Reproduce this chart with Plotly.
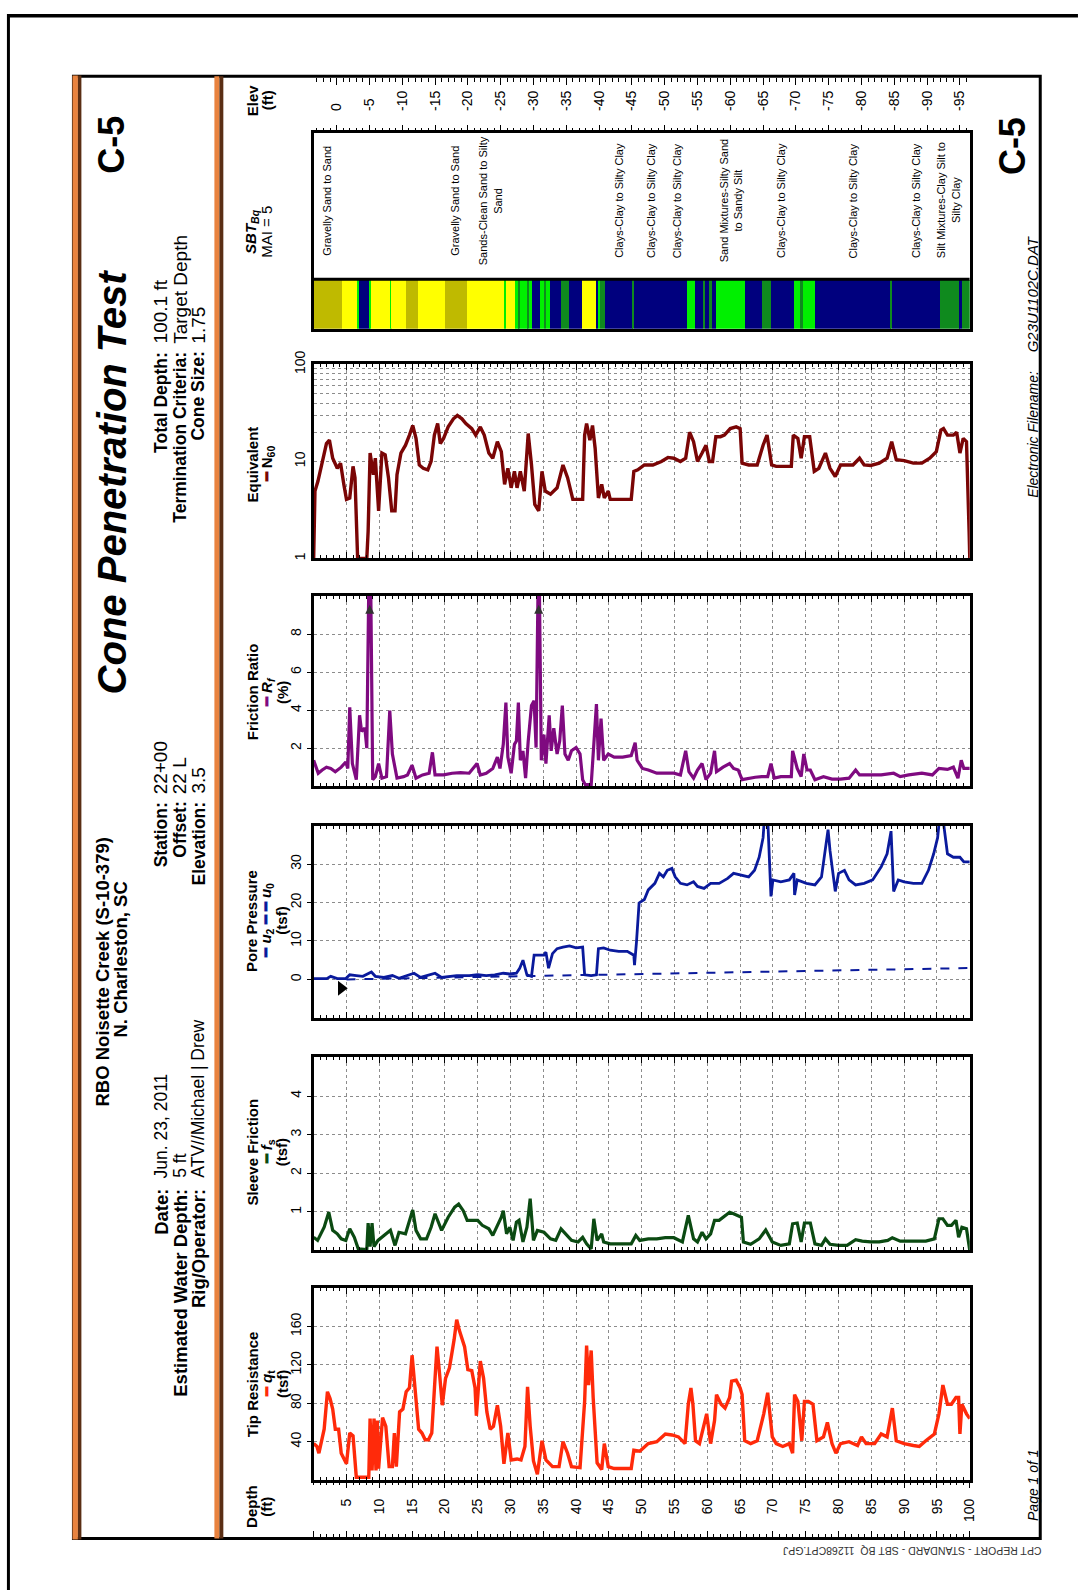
import plotly.graph_objects as go

# ---------------- DATA ----------------
tip_depth = [0, 0.5, 0.8, 1.6, 2.1, 2.5, 2.9, 3.3, 3.8, 4.2, 5.0, 5.5, 6.0, 6.5, 7.0, 8.4, 8.6, 8.9, 9.2, 9.5,
             9.7, 9.9, 10.5, 11.0, 11.5, 12.0, 12.3, 12.6, 13.1, 13.6, 14.1, 14.6, 15.0, 15.4, 16.0, 16.5, 17.0, 17.5, 18.0, 18.5,
             18.8, 19.2, 19.6, 20.1, 20.7, 21.4, 21.8, 22.2, 23.0, 23.5, 24.1, 24.6, 24.8, 25.4, 25.9, 26.4, 26.9, 27.4, 28.0, 28.5,
             29.0, 29.6, 30.1, 31.0, 31.6, 32.2, 32.6, 33.0, 33.5, 34.1, 34.8, 35.4, 36.4, 37.4, 38.0, 38.7, 39.3, 40.6, 41.3, 41.6,
             41.9, 42.3, 42.6, 43.2, 43.9, 44.3, 44.9, 45.8, 48.4, 48.8, 49.7, 51.0, 52.3, 53.6, 54.6, 55.6, 56.6, 57.1, 57.5, 57.8,
             58.2, 58.8, 59.5, 59.9, 60.5, 61.1, 61.4, 62.1, 62.7, 63.4, 63.7, 64.4, 65.0, 65.3, 65.7, 66.6, 67.6, 68.6, 69.2, 69.9,
             70.5, 71.5, 72.5, 73.0, 73.3, 73.8, 74.4, 74.8, 75.4, 76.1, 76.7, 77.7, 78.3, 79.0, 79.6, 80.3, 81.6, 82.9, 83.5, 84.2,
             85.5, 86.5, 87.4, 88.2, 88.8, 90.0, 91.4, 92.3, 93.3, 94.6, 95.3, 95.9, 96.6, 97.2, 97.9, 98.3, 98.5, 98.8, 99.5, 100.0]
tip_qt = [38, 35, 28, 53, 92, 85, 74, 53, 53, 28, 17, 49, 46, 3, 3, 3, 64, 10, 64, 10,
          62, 12, 65, 56, 14, 14, 49, 14, 71, 74, 92, 96, 130, 99, 53, 49, 42, 42, 49, 106,
          139, 110, 78, 106, 117, 146, 167, 156, 139, 115, 114, 96, 67, 124, 106, 71, 53, 56, 78, 56,
          17, 49, 21, 22, 21, 35, 97, 56, 20, 6, 41, 21, 14, 14, 40, 28, 14, 13, 82, 140,
          99, 135, 86, 18, 11, 38, 14, 12, 12, 31, 30, 38, 40, 48, 47, 45, 38, 79, 96, 79,
          41, 38, 58, 69, 38, 62, 89, 79, 75, 86, 103, 104, 96, 89, 41, 38, 41, 69, 91, 45,
          38, 35, 38, 28, 89, 82, 41, 82, 82, 79, 41, 45, 60, 38, 28, 38, 40, 36, 45, 38,
          38, 48, 45, 75, 41, 38, 36, 35, 41, 48, 69, 99, 79, 79, 86, 86, 48, 79, 69, 64]

sleeve_depth = [0, 0.6, 1.6, 2.3, 2.9, 3.6, 4.2, 4.9, 5.5, 6.2, 6.8, 7.5, 8.1, 8.3, 8.6, 8.9, 9.2, 9.8, 10.7, 11.7,
                12.4, 13.0, 14.0, 14.6, 15.1, 15.6, 16.3, 17.2, 17.9, 18.5, 19.5, 20.5, 21.5, 22.1, 22.8, 23.4, 24.4, 25.0, 25.7, 26.7,
                27.3, 28.0, 28.6, 28.9, 29.4, 29.9, 30.4, 30.9, 31.3, 31.9, 32.5, 33.0, 33.5, 34.1, 35.1, 36.1, 36.9, 37.7, 38.4, 39.3,
                40.3, 41.0, 41.6, 42.3, 42.7, 43.2, 43.9, 44.2, 45.2, 48.4, 49.1, 49.7, 51.0, 52.3, 53.6, 54.9, 56.2, 57.1, 57.9, 58.5,
                59.2, 59.8, 60.5, 61.1, 61.8, 62.4, 63.4, 64.0, 64.7, 65.2, 65.5, 66.6, 67.9, 68.9, 69.9, 71.2, 72.5, 73.0, 73.7, 74.3,
                74.8, 75.7, 76.4, 77.4, 78.0, 78.7, 80.0, 81.3, 82.6, 83.6, 84.9, 86.2, 87.5, 88.2, 89.4, 91.4, 93.3, 94.6, 95.3, 95.9,
                96.6, 97.2, 97.9, 98.3, 98.8, 99.5, 100.0]
sleeve_fs = [0.34, 0.26, 0.6, 0.99, 0.52, 0.43, 0.3, 0.26, 0.56, 0.34, 0.04, 0.02, 0.02, 0.71, 0.1, 0.71, 0.1, 0.26, 0.39, 0.52,
             0.13, 0.47, 0.43, 0.78, 1.05, 0.52, 0.3, 0.3, 0.6, 0.95, 0.52, 0.86, 1.12, 1.2, 1.03, 0.78, 0.78, 0.78, 0.65, 0.56,
             0.39, 0.65, 0.86, 1.03, 0.43, 0.6, 0.26, 0.73, 0.78, 0.22, 0.6, 1.34, 0.26, 0.52, 0.47, 0.3, 0.26, 0.56, 0.43, 0.26,
             0.22, 0.34, 0.17, 0.04, 0.82, 0.26, 0.43, 0.22, 0.17, 0.17, 0.39, 0.26, 0.3, 0.3, 0.33, 0.33, 0.22, 0.91, 0.3, 0.22,
             0.47, 0.3, 0.43, 0.78, 0.78, 0.86, 0.99, 0.95, 0.91, 0.86, 0.22, 0.16, 0.3, 0.53, 0.22, 0.13, 0.17, 0.69, 0.71, 0.22,
             0.71, 0.71, 0.17, 0.13, 0.3, 0.16, 0.13, 0.13, 0.28, 0.24, 0.22, 0.22, 0.26, 0.33, 0.24, 0.24, 0.24, 0.3, 0.82, 0.82,
             0.65, 0.65, 0.78, 0.34, 0.6, 0.56, 0.0]

pore_depth = [0, 2.0, 2.6, 3.6, 4.9, 5.5, 6.5, 7.5, 8.8, 9.4, 10.7, 12.0, 13.0, 15.3, 16.3, 18.5, 19.5, 21.8, 23.7, 25.0,
              26.3, 27.6, 28.9, 29.9, 30.9, 31.4, 31.9, 32.5, 33.2, 33.6, 34.5, 35.1, 35.4, 35.8, 36.4, 37.1, 38.0, 39.0, 40.0, 41.0,
              41.3, 42.3, 43.1, 43.4, 44.2, 45.2, 46.5, 47.8, 48.8, 48.9, 49.2, 49.6, 50.4, 51.0, 52.0, 52.7, 53.3, 53.9, 54.6, 55.1,
              55.9, 56.9, 57.9, 58.5, 59.5, 60.5, 61.8, 63.1, 64.0, 65.3, 66.3, 67.2, 67.9, 68.5, 68.7, 69.2, 69.5, 69.7, 70.0, 71.2,
              72.5, 73.2, 73.3, 73.7, 75.1, 76.4, 77.4, 78.0, 78.4, 78.7, 79.1, 79.5, 80.0, 80.9, 81.6, 82.6, 83.9, 85.2, 86.5, 87.4,
              88.0, 88.4, 89.1, 90.0, 91.4, 92.7, 93.7, 94.5, 95.1, 95.4, 95.9, 96.6, 97.5, 98.5, 99.1, 100.0]
pore_u2 = [0.2, 0.2, 0.8, 0.2, 0.2, 1.2, 1.0, 0.8, 1.9, 0.8, 0.5, 1.0, 0.3, 1.6, 0.5, 1.6, 0.5, 1.0, 1.0, 1.2,
           1.0, 1.2, 1.6, 1.4, 1.6, 2.9, 5.0, 1.2, 0.8, 6.3, 6.3, 6.3, 7.1, 2.9, 6.7, 8.0, 8.4, 8.7, 8.2, 8.4,
           1.2, 1.0, 1.2, 8.0, 8.2, 7.6, 7.3, 7.3, 6.3, 3.7, 9.7, 19.9, 20.8, 23.3, 25.0, 27.6, 26.7, 28.4, 28.9, 26.7,
           25.0, 24.6, 25.4, 24.2, 23.7, 25.0, 25.0, 26.3, 27.6, 27.1, 26.7, 28.4, 31.8, 36.9, 42, 42, 31.8, 21.6, 25.9, 25.4,
           25.9, 27.6, 22.0, 25.9, 25.0, 24.6, 26.7, 33.5, 39.0, 33.5, 27.6, 22.9, 27.6, 28.4, 25.9, 24.6, 25.0, 25.9, 29.3, 32.7,
           38.6, 22.9, 25.9, 25.4, 25.0, 25.0, 28.4, 32.7, 36.9, 42, 42, 32.7, 31.8, 31.8, 30.6, 30.6]
u0_depth = [5.0, 100.0]
u0_value = [0.0, 2.96]
water_mark_depth = [4.2]
water_mark_value = [-2.3]

fr_depth = [0, 0.7, 1.3, 1.95, 2.6, 3.3, 4.2, 4.9, 5.2, 5.5, 5.9, 6.5, 7.0, 7.3, 7.8, 8.1, 8.4, 8.7, 9.0, 9.4,
            9.9, 10.4, 11.1, 11.6, 12.0, 12.7, 13.7, 14.3, 15.0, 15.6, 16.6, 17.6, 18.1, 18.5, 19.8, 21.1, 22.4, 23.7, 24.9, 25.4,
            26.3, 27.3, 28.0, 28.4, 28.9, 29.3, 29.6, 30.1, 30.6, 30.9, 31.2, 31.5, 31.9, 32.3, 32.7, 33.2, 33.6, 33.9, 34.2, 34.4,
            34.7, 35.1, 35.4, 35.9, 36.2, 36.6, 37.1, 37.5, 37.9, 38.3, 38.8, 39.3, 40.0, 40.6, 41.0, 41.4, 42.3, 42.7, 43.1, 43.4,
            43.8, 44.2, 44.9, 45.8, 47.1, 48.4, 49.0, 49.3, 50.1, 51.0, 52.3, 53.6, 54.9, 55.9, 56.7, 57.2, 57.9, 58.5, 59.2, 59.8,
            60.5, 61.1, 61.4, 62.4, 63.4, 64.0, 64.7, 65.3, 66.3, 67.3, 68.3, 69.2, 69.7, 70.2, 71.2, 72.2, 72.8, 73.0, 73.7, 74.3,
            74.7, 75.2, 75.7, 76.4, 77.7, 79.0, 80.3, 81.6, 82.6, 83.2, 84.9, 86.5, 88.4, 89.4, 90.7, 92.7, 94.3, 95.3, 96.6, 97.5,
            98.2, 98.7, 99.1, 100.0]
fr_rf = [1.36, 0.68, 0.85, 1.0, 0.93, 0.76, 1.0, 1.27, 0.93, 4.15, 1.19, 0.34, 3.73, 2.88, 3.05, 2.0, 10.5, 10.5, 0.34, 0.5,
         1.19, 0.42, 0.5, 3.98, 1.69, 0.42, 0.5, 0.59, 1.1, 0.42, 0.59, 0.68, 1.78, 0.59, 0.59, 0.68, 0.71, 0.68, 1.19, 0.59,
         0.68, 0.93, 1.53, 0.93, 2.2, 4.4, 1.53, 0.68, 2.2, 2.37, 4.4, 1.36, 1.86, 0.42, 2.37, 4.24, 4.49, 2.03, 10.5, 10.5,
         1.36, 2.71, 1.19, 3.73, 1.86, 3.05, 1.69, 2.37, 4.24, 1.69, 1.36, 1.86, 2.03, 1.69, 0.34, 0.08, 0.08, 2.03, 4.32, 1.36,
         3.56, 1.36, 1.69, 1.53, 1.53, 1.61, 2.29, 1.36, 0.93, 0.85, 0.68, 0.68, 0.68, 0.59, 1.86, 0.76, 0.42, 0.85, 1.19, 0.34,
         0.68, 1.86, 0.76, 1.0, 1.19, 0.93, 0.85, 0.34, 0.42, 0.47, 0.5, 0.5, 1.19, 0.42, 0.5, 0.5, 0.5, 1.86, 0.93, 0.5,
         1.69, 0.85, 0.85, 0.34, 0.5, 0.37, 0.37, 0.42, 0.85, 0.59, 0.59, 0.59, 0.68, 0.5, 0.59, 0.68, 0.59, 0.93, 0.88, 1.0,
         0.42, 1.36, 0.93, 0.93]
fr_clip_depth = [8.55, 34.3]
fr_clip_value = [9.55, 9.55]

n60_depth = [0, 0.2, 0.65, 1.3, 1.95, 2.4, 2.9, 3.6, 4.1, 4.6, 5.0, 5.5, 6.0, 6.3, 6.7, 8.1, 8.3, 8.6, 9.1, 9.4,
             9.9, 10.4, 10.9, 11.4, 11.9, 12.4, 12.7, 13.3, 14.0, 14.6, 15.1, 15.6, 16.1, 16.7, 17.4, 17.9, 18.4, 18.9, 19.3, 19.8,
             20.5, 21.3, 21.9, 22.6, 23.2, 24.1, 24.7, 25.4, 26.0, 26.7, 27.3, 28.0, 28.6, 29.1, 29.6, 30.1, 30.6, 31.0, 31.5, 32.1,
             32.7, 33.2, 33.7, 34.3, 34.8, 35.3, 36.1, 37.1, 38.0, 38.7, 39.5, 41.0, 41.3, 41.6, 42.1, 42.5, 42.9, 43.4, 43.9, 44.3,
             44.9, 45.2, 48.4, 48.8, 49.4, 50.4, 51.7, 53.0, 54.0, 54.9, 55.9, 56.7, 57.3, 57.9, 58.5, 59.2, 59.8, 60.3, 60.8, 61.3,
             62.0, 62.6, 63.5, 64.4, 65.0, 65.3, 66.3, 67.6, 68.5, 69.1, 69.8, 70.5, 71.8, 72.8, 73.1, 73.8, 74.3, 74.8, 75.6, 76.3,
             77.0, 78.0, 78.7, 79.5, 80.3, 81.3, 82.2, 83.2, 83.9, 84.9, 86.2, 87.4, 88.1, 88.8, 90.0, 91.4, 92.7, 93.9, 94.9, 95.6,
             96.0, 96.6, 97.5, 98.0, 98.5, 99.0, 99.5, 99.9, 100.0]
n60_value = [1, 4.95, 6.25, 10, 15.3, 16.6, 10.8, 8.5, 9.6, 5.8, 4.07, 4.2, 8.9, 6.8, 1, 1, 1.9, 12.2, 7.3, 10.8,
             3.1, 12.2, 11.7, 6.8, 3.1, 3.1, 7.3, 12.2, 14.7, 18.7, 23.5, 17.3, 9.2, 8.5, 8.2, 10, 18.7, 24.6, 15.3, 17.3,
             22.7, 27.5, 29.8, 27.5, 24.6, 21.8, 18.7, 22.7, 18.7, 12.2, 10.8, 16, 12.6, 5.8, 8.5, 5.35, 7.9, 5.35, 7.9, 4.95,
             19.4, 9.2, 3.6, 3.1, 7.9, 4.95, 4.6, 5.35, 9.2, 6.8, 4.07, 4.07, 18.7, 24.6, 16.6, 23.5, 13.7, 4.2, 5.8, 4.2,
             4.95, 4.07, 4.07, 7.9, 8.2, 9.2, 9.2, 10, 11, 10.8, 10, 10.8, 20, 16, 10, 12.2, 14.7, 10, 10, 18,
             18, 18.7, 21.8, 22.7, 21.8, 9.6, 9.2, 9.2, 14.7, 18.7, 9.2, 8.9, 8.9, 8.9, 18.7, 17.3, 10.8, 18, 18, 7.9,
             8.5, 12.2, 8.5, 7.0, 9.2, 9.2, 9.2, 10.8, 9.2, 9.1, 9.6, 10.8, 16, 10.4, 10.2, 9.6, 9.6, 10.8, 12.6, 21,
             21.8, 18.7, 18.7, 20, 12.2, 17.3, 16, 1.9, 1]

sbt_start = [0, 4.2, 6.6, 6.8, 8.5, 8.7, 11.6, 11.8, 14.0, 15.8, 19.9, 23.3, 29.0, 29.3, 30.7, 31.2, 31.4, 32.6, 32.8, 33.3,
             34.5, 35.1, 35.3, 36.0, 37.7, 38.9, 40.9, 43.0, 43.3, 43.6, 44.4, 48.6, 48.8, 56.9, 58.0, 59.3, 59.6, 60.2, 60.6, 61.2,
             65.7, 68.3, 69.6, 73.1, 74.1, 74.6, 76.4, 87.9, 88.1, 95.4, 98.4, 98.7]
sbt_zone = ['G', 'S', 'M', 'C', 'M', 'S', 'M', 'S', 'G', 'S', 'G', 'S', 'M', 'S', 'M', 'T', 'M', 'T', 'M', 'C',
            'M', 'T', 'M', 'C', 'T', 'C', 'S', 'C', 'M', 'T', 'C', 'T', 'C', 'M', 'C', 'T', 'C', 'T', 'C', 'M',
            'C', 'T', 'C', 'M', 'T', 'M', 'C', 'T', 'C', 'T', 'C', 'T']
total_depth = 100.0
sbt_label_depth = [2.1, 21.6, 27.0, 46.6, 51.5, 55.5, 63.6, 71.3, 82.2, 91.9, 96.8]
sbt_label_text = ['Gravelly Sand to Sand', 'Gravelly Sand to Sand', 'Sands-Clean Sand to Silty<br>Sand',
                  'Clays-Clay to Silty Clay', 'Clays-Clay to Silty Clay', 'Clays-Clay to Silty Clay',
                  'Sand Mixtures-Silty Sand<br>to Sandy Silt', 'Clays-Clay to Silty Clay',
                  'Clays-Clay to Silty Clay', 'Clays-Clay to Silty Clay', 'Silt Mixtures-Clay Silt to<br>Silty Clay']

elev_range = [3.5, -96.5]
elev_ticks = [0, -5, -10, -15, -20, -25, -30, -35, -40, -45, -50, -55, -60, -65, -70, -75, -80, -85, -90, -95]
elev_labels = ['0', '-5', '-10', '-15', '-20', '-25', '-30', '-35', '-40', '-45', '-50', '-55', '-60', '-65',
               '-70', '-75', '-80', '-85', '-90', '-95']
depth_ticks = [5, 10, 15, 20, 25, 30, 35, 40, 45, 50, 55, 60, 65, 70, 75, 80, 85, 90, 95, 100]
tip_ticks = [40, 80, 120, 160]
sleeve_ticks = [1, 2, 3, 4]
pore_ticks = [0, 10, 20, 30]
fr_ticks = [2, 4, 6, 8]
n60_ticks = [1, 10, 20, 30, 40, 50, 60, 70, 80, 90, 100]
n60_ticktext = ['1', '10', '', '', '', '', '', '', '', '', '100']

# ---------------- STYLE / LAYOUT ----------------
W, H = 1081, 1590
FONT = "Liberation Sans, Arial, Helvetica, sans-serif"
C_TIP, C_SLV, C_PORE, C_FR, C_N60 = '#FF2A0A', '#0B4A12', '#0A1A9C', '#7F0A80', '#7A0505'
ZONE_COLORS = {'G': '#BFBA00', 'S': '#FFFF00', 'M': '#00F000', 'T': '#0F8A1E', 'C': '#00007E'}
GRID = '#8C8C8C'


def fx(p):
    return p / W


def fy(p):
    return 1 - p / H


X_LEFT, X_RIGHT = 316, 977
PANELS = [('tip', 1287, 1481), ('sleeve', 1054, 1249), ('pore', 820, 1014),
          ('fr', 588, 780), ('n60', 354, 550), ('sbt', 120, 318)]
STRIP_FRAC = 0.2525
BOX_L, BOX_T, BOX_R, BOX_B = 74, 63, 1048, 1540

fig = go.Figure()

# ---- traces ----
fig.add_trace(go.Scatter(x=tip_depth, y=tip_qt, xaxis='x', yaxis='y', mode='lines',
                         line=dict(color=C_TIP, width=3.4), showlegend=False))
fig.add_trace(go.Scatter(x=sleeve_depth, y=sleeve_fs, xaxis='x2', yaxis='y2', mode='lines',
                         line=dict(color=C_SLV, width=3.2), showlegend=False))
fig.add_trace(go.Scatter(x=u0_depth, y=u0_value, xaxis='x3', yaxis='y3', mode='lines',
                         line=dict(color=C_PORE, width=2, dash='dash'), showlegend=False))
fig.add_trace(go.Scatter(x=pore_depth, y=pore_u2, xaxis='x3', yaxis='y3', mode='lines',
                         line=dict(color=C_PORE, width=2.8), showlegend=False))
fig.add_trace(go.Scatter(x=water_mark_depth, y=water_mark_value, xaxis='x3', yaxis='y3', mode='markers',
                         marker=dict(symbol='triangle-right', size=13, color='black'), showlegend=False))
fig.add_trace(go.Scatter(x=fr_depth, y=fr_rf, xaxis='x4', yaxis='y4', mode='lines',
                         line=dict(color=C_FR, width=3.2), showlegend=False))
fig.add_trace(go.Scatter(x=fr_clip_depth, y=fr_clip_value, xaxis='x4', yaxis='y4', mode='markers',
                         marker=dict(symbol='arrow-up', size=9, color='#333333'), showlegend=False))
fig.add_trace(go.Scatter(x=n60_depth, y=n60_value, xaxis='x5', yaxis='y5', mode='lines',
                         line=dict(color=C_N60, width=3.4), showlegend=False))

sbt_end = sbt_start[1:] + [total_depth]
sbt_len = [e - s for s, e in zip(sbt_start, sbt_end)]
fig.add_trace(go.Bar(x=sbt_len, base=sbt_start, y=[STRIP_FRAC / 2] * len(sbt_start), orientation='h',
                     width=STRIP_FRAC, marker=dict(color=[ZONE_COLORS[z] for z in sbt_zone], line=dict(width=0)),
                     xaxis='x6', yaxis='y6', showlegend=False))

# dummy traces so overlay axes are drawn
for xa, ya in [('x7', 'y6'), ('x8', 'y6'), ('x9', 'y'), ('x10', 'y')]:
    fig.add_trace(go.Scatter(x=[], y=[], xaxis=xa, yaxis=ya, mode='lines', showlegend=False))

# ---- axes ----
layout_axes = {}
xdom = [fx(X_LEFT), fx(X_RIGHT)]
ycfg = {
    'tip': dict(range=[0, 200], tickvals=tip_ticks),
    'sleeve': dict(range=[0, 5], tickvals=sleeve_ticks),
    'pore': dict(range=[-10, 40], tickvals=pore_ticks),
    'fr': dict(range=[0, 10], tickvals=fr_ticks),
    'n60': dict(type='log', range=[0, 2], tickvals=n60_ticks, ticktext=n60_ticktext, ticks=''),
    'sbt': dict(range=[0, 1], showticklabels=False, showgrid=False, ticks=''),
}
for i, (nm, top, bot) in enumerate(PANELS, start=1):
    xk = 'xaxis' if i == 1 else f'xaxis{i}'
    yk = 'yaxis' if i == 1 else f'yaxis{i}'
    xr = 'x' if i == 1 else f'x{i}'
    yr = 'y' if i == 1 else f'y{i}'
    xa = dict(domain=xdom, anchor=yr, range=[0, 100], showline=True, linecolor='black', linewidth=3,
              mirror='allticks', showticklabels=False, zeroline=False, fixedrange=True)
    if nm == 'sbt':
        xa.update(showgrid=False, ticks='', mirror=True)
    else:
        xa.update(showgrid=True, gridcolor=GRID, griddash='dot', gridwidth=1.2, tick0=0, dtick=5,
                  ticks='inside', ticklen=6, tickcolor='black', tickwidth=1,
                  minor=dict(dtick=1, tick0=0, ticks='inside', ticklen=3, tickcolor='black', showgrid=False))
    ya = dict(domain=[fy(bot), fy(top)], anchor=xr, showline=True, linecolor='black', linewidth=3, mirror=True,
              zeroline=False, showgrid=True, gridcolor=GRID, griddash='dot', gridwidth=1.2,
              ticks='outside', ticklen=4, tickcolor='black', tickangle=-90,
              tickfont=dict(size=14, color='black', family=FONT), tickmode='array', fixedrange=True)
    ya.update(ycfg[nm])
    layout_axes[xk] = xa
    layout_axes[yk] = ya

tickcommon = dict(ticks='outside', ticklen=7, tickcolor='black', tickwidth=1,
                  showgrid=False, zeroline=False, showline=False, fixedrange=True)
# elevation labels above the SBT box
layout_axes['xaxis7'] = dict(overlaying='x6', anchor='y6', side='top', range=elev_range, tickmode='array',
                             tickvals=elev_ticks, ticktext=elev_labels,
                             minor=dict(tickmode='linear', dtick=1, tick0=0, ticks='outside', ticklen=4,
                                        tickcolor='black'),
                             tickangle=-90, tickfont=dict(size=14, color='black', family=FONT),
                             ticklabelstandoff=11, **tickcommon)
# elevation ticks hanging from the frame top
layout_axes['xaxis8'] = dict(overlaying='x6', anchor='free', position=fy(BOX_T + 1), side='bottom',
                             range=elev_range, tick0=0, dtick=5, showticklabels=False,
                             minor=dict(dtick=1, tick0=0, ticks='outside', ticklen=4, tickcolor='black'),
                             **tickcommon)
# depth ticks rising from the frame bottom
layout_axes['xaxis9'] = dict(overlaying='x', anchor='free', position=fy(BOX_B - 1), side='top', range=[0, 100],
                             tick0=0, dtick=5, showticklabels=False,
                             minor=dict(dtick=1, tick0=0, ticks='outside', ticklen=4, tickcolor='black'),
                             **tickcommon)
# depth labels below the tip panel
layout_axes['xaxis10'] = dict(overlaying='x', anchor='y', side='bottom', range=[0, 100], tickmode='array',
                              tickvals=depth_ticks, tickangle=-90,
                              tickfont=dict(size=14, color='black', family=FONT), ticklabelstandoff=5,
                              minor=dict(tickmode='linear', dtick=1, tick0=0, ticks='outside', ticklen=4,
                                         tickcolor='black'),
                              **tickcommon)

# ---- shapes ----
shapes = []


def rect(x0, y0, x1, y1, fill=None, lw=0, lc='black'):
    shapes.append(dict(type='rect', xref='paper', yref='paper', x0=fx(x0), x1=fx(x1), y0=fy(y1), y1=fy(y0),
                       fillcolor=fill if fill else 'rgba(0,0,0,0)', line=dict(width=lw, color=lc), layer='above'))


def hline(x0, x1, y, lw=3):
    shapes.append(dict(type='line', xref='paper', yref='paper', x0=fx(x0), x1=fx(x1), y0=fy(y), y1=fy(y),
                       line=dict(width=lw, color='black')))


def vline(x, y0, y1, lw=3):
    shapes.append(dict(type='line', xref='paper', yref='paper', x0=fx(x), x1=fx(x), y0=fy(y0), y1=fy(y1),
                       line=dict(width=lw, color='black')))


# outer page frame (top and left visible)
hline(8, W + 5, 1.8, 3.4)
vline(8.5, 0, H + 5, 3)
# inner report box
rect(BOX_L, BOX_T, BOX_R, BOX_B, lw=3)
rect(73, BOX_T - 1, 78.5, BOX_B + 1, fill='#E9833F')
rect(78.5, BOX_T - 1, 82, BOX_B + 1, fill='#5A2E14')
rect(216, BOX_T, 221, BOX_B, fill='#E9833F')
rect(221, BOX_T, 225, BOX_B, fill='#5A2E14')
# top edge of the SBT colour strip
shapes.append(dict(type='line', xref='x6', yref='y6', x0=0, x1=100, y0=STRIP_FRAC, y1=STRIP_FRAC,
                   line=dict(width=3, color='black')))

# ---- annotations ----
anns = []


def A(text, x, y, size, xanchor='center', yanchor='middle', angle=-90, color='black', align='center'):
    anns.append(dict(text=text, x=fx(x), y=fy(y), xref='paper', yref='paper', showarrow=False,
                     textangle=angle, xanchor=xanchor, yanchor=yanchor, align=align,
                     font=dict(size=size, color=color, family=FONT), borderpad=0))


# header
A('<b><i>Cone Penetration Test</i></b>', 113, 473, 40)
A('<b>C-5</b>', 113, 132, 36)
A('<b>RBO Noisette Creek (S-10-379)</b>', 103, 968, 18.5)
A('<b>N. Charleston, SC</b>', 121, 955, 18.5)
rows_x = [162, 181, 200]
blocks = [
    (340, 334, ['Total Depth:', 'Termination Criteria:', 'Cone Size:'], ['100.1 ft', 'Target Depth', '1.75'], 17.5, 19),
    (795, 789, ['Station:', 'Offset:', 'Elevation:'], ['22+00', '22 L', '3.5'], 17.5, 19),
    (1186, 1177, ['Date:', 'Estimated Water Depth:', 'Rig/Operator:'], ['Jun. 23, 2011', '5 ft', 'ATV//Michael | Drew'],
     18.5, 17.5),
]
for lab_end, val_start, labs, vals, lsz, vsz in blocks:
    for xr_, lab, val in zip(rows_x, labs, vals):
        A(f'<b>{lab}</b>', xr_, lab_end, lsz, yanchor='top')
        A(val, xr_, val_start, vsz, yanchor='bottom')

# panel titles
L1, L2, L3 = 254, 269, 284
titles = [
    (87, ['<b>Elev</b>', '<b>(ft)</b>']),
    (220, ['<b><i>SBT</i><sub><i>Bq</i></sub></b>', 'MAI = 5']),
    (455, ['<b>Equivalent</b>', f"<b><span style='color:{C_N60}'>━</span> N<sub>60</sub></b>"]),
    (685, ['<b>Friction Ratio</b>', f"<b><span style='color:{C_FR}'>━</span> <i>R<sub>f</sub></i></b>", '<b>(%)</b>']),
    (916, ['<b>Pore Pressure</b>',
           f"<b><span style='color:{C_PORE}'>━</span> <i>u</i><sub>2</sub> <span style='color:{C_PORE}'>━ ━</span> <i>u</i><sub>0</sub></b>",
           '<b>(tsf)</b>']),
    (1150, ['<b>Sleeve Friction</b>', f"<b><span style='color:{C_SLV}'>━</span> <i>f</i><sub>s</sub></b>", '<b>(tsf)</b>']),
    (1384, ['<b>Tip Resistance</b>', f"<b><span style='color:{C_TIP}'>━</span> <i>q</i><sub>t</sub></b>", '<b>(tsf)</b>']),
    (1508, ['<b>Depth</b>', '<b>(ft)</b>']),
]
for yc, lines in titles:
    for xl, t in zip([L1, L2, L3], lines):
        A(t, xl, yc, 15)

# SBT zone labels
for d, t in zip(sbt_label_depth, sbt_label_text):
    anns.append(dict(text=t, x=d, y=0.655, xref='x6', yref='y6', showarrow=False, textangle=-90,
                     xanchor='center', yanchor='middle', align='center',
                     font=dict(size=11, color='black', family=FONT)))

# footer / right column
A('<b>C-5</b>', 1020, 133, 36)
A('<i>Electronic Filename:</i>', 1040, 490, 14, yanchor='bottom')
A('<i>G23U1102C.DAT</i>', 1040, 343, 15, yanchor='bottom')
A('<i>Page 1 of 1</i>', 1040, 1523, 14, yanchor='bottom')
A('CPT REPORT - STANDARD - SBT BQ  11268CPT.GPJ', 1050, 1552, 10.5, xanchor='right', angle=180, color='#333333')

fig.update_layout(width=W, height=H, margin=dict(l=0, r=0, t=0, b=0), paper_bgcolor='white',
                  plot_bgcolor='white', showlegend=False, font=dict(family=FONT, color='black'),
                  shapes=shapes, annotations=anns, bargap=0, **layout_axes)

fig.write_html("out.html", config={'displayModeBar': False},
               post_script="document.body.style.margin='0px';")
